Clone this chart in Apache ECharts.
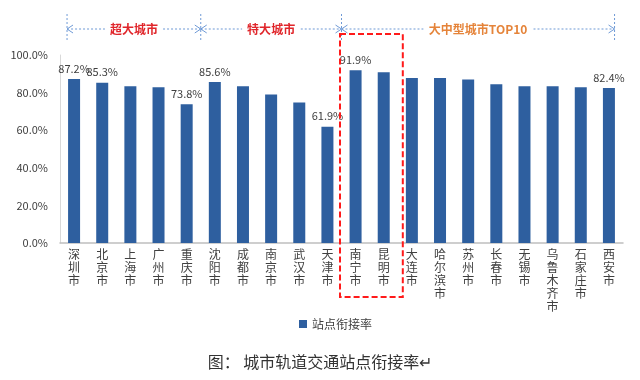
<!DOCTYPE html>
<html><head><meta charset="utf-8">
<script src="https://cdn.jsdelivr.net/npm/echarts@6/dist/echarts.min.js"></script>
<style>html,body{margin:0;padding:0;background:#fff}#c{width:640px;height:380px}</style>
</head><body><div id="c"></div>
<script>
const categories = ['深圳市','北京市','上海市','广州市','重庆市','沈阳市','成都市','南京市','武汉市','天津市','南宁市','昆明市','大连市','哈尔滨市','苏州市','长春市','无锡市','乌鲁木齐市','石家庄市','西安市'];
const values = [87.2,85.3,83.4,82.9,73.8,85.6,83.4,79.0,74.7,61.9,91.9,90.8,87.8,87.7,87.0,84.4,83.4,83.4,82.9,82.4];
const labeled = ['深圳市','北京市','重庆市','沈阳市','天津市','南宁市','西安市'];
const yTicks = [0,20,40,60,80,100];
const groups = [
  {name:'超大城市', from:0, to:4, color:'#e0262b'},
  {name:'特大城市', from:5, to:9, color:'#e0262b'},
  {name:'大中型城市TOP10', from:10, to:19, color:'#e5843a'}
];
const highlight = ['南宁市','昆明市'];
const seriesName = '站点衔接率';
const caption = '图： 城市轨道交通站点衔接率';

const FONT = '"Noto Sans CJK SC", "Noto Sans", sans-serif';
const chart = echarts.init(document.getElementById('c'), null, {renderer:'canvas'});
chart.setOption({
  animation:false,
  textStyle:{fontFamily:FONT},
  title:{text:caption + '↵', left:'center', top:349, textStyle:{fontSize:16, fontWeight:'normal', color:'#333', fontFamily:FONT}},
  legend:{data:[seriesName], left:294, top:313, itemWidth:8, itemHeight:8, icon:'rect', itemGap:4,
    textStyle:{fontSize:12, color:'#404040', fontFamily:FONT}},
  grid:{left:60, right:17, top:55, bottom:137, containLabel:false},
  xAxis:{type:'category', data:categories,
    axisLine:{lineStyle:{color:'#bfbfbf', width:1.5}}, axisTick:{show:false},
    axisLabel:{interval:0, fontSize:12, color:'#404040', lineHeight:13, margin:5, fontFamily:FONT,
      formatter:v=>v.split('').join('\n')}},
  yAxis:{type:'value', min:yTicks[0], max:yTicks[yTicks.length-1], interval:20,
    splitLine:{show:false}, axisLine:{show:true, lineStyle:{color:'#d9d9d9'}}, axisTick:{show:false},
    axisLabel:{fontSize:11, color:'#404040', margin:12, formatter:v=>v.toFixed(1)+'%'}},
  series:[{name:seriesName, type:'bar', barWidth:12, itemStyle:{color:'#2e5f9f'},
    data: values.map((v,i)=>({value:v, label:{show: labeled.includes(categories[i])}})),
    label:{position:'top', distance:5, fontSize:11, color:'#404040', formatter:p=>p.value.toFixed(1)+'%'}
  }]
});

// annotations derived from axis positions
const cx = i => chart.convertToPixel({xAxisIndex:0}, categories[i]);
const step = cx(1) - cx(0);
const bounds = groups.map((g,gi)=>{
  const l = gi===0 ? cx(g.from) - step*0.25 : (cx(g.from) + cx(g.from-1))/2;
  const r = gi===groups.length-1 ? cx(g.to) + step*0.2 : (cx(g.to) + cx(g.to+1))/2;
  return [l,r];
});
const ay = 29;
const blue = '#6f9ad6';
const els = [];
const vxs = [bounds[0][0], ...bounds.map(b=>b[1])];
vxs.forEach(x=>els.push({type:'line', shape:{x1:x,y1:14,x2:x,y2:42}, style:{stroke:blue, lineWidth:1, lineDash:[2,2]}, silent:true}));
groups.forEach((g,gi)=>{
  const [l,r] = bounds[gi];
  els.push({type:'line', shape:{x1:l,y1:ay,x2:r,y2:ay}, style:{stroke:blue, lineWidth:1, lineDash:[2,2]}});
  els.push({type:'polyline', shape:{points:[[l+6,ay-4],[l,ay],[l+6,ay+4]]}, style:{stroke:blue, lineWidth:1, fill:null}});
  els.push({type:'polyline', shape:{points:[[r-6,ay-4],[r,ay],[r-6,ay+4]]}, style:{stroke:blue, lineWidth:1, fill:null}});
  els.push({type:'text', x:(l+r)/2, y:ay, style:{text:g.name, fill:g.color, font:'bold 12px '+FONT, align:'center', verticalAlign:'middle', backgroundColor:'#fff', padding:[1,5]}});
});
const hi0 = categories.indexOf(highlight[0]), hi1 = categories.indexOf(highlight[highlight.length-1]);
const bx1 = (cx(hi0)+cx(hi0-1))/2 - 1.5, bx2 = (cx(hi1)+cx(hi1+1))/2 + 5;
els.push({type:'rect', shape:{x:bx1, y:34, width:bx2-bx1, height:263}, style:{fill:null, stroke:'#ff1a1a', lineWidth:2, lineDash:[6,3]}, z:10});
chart.setOption({graphic:els});
</script></body></html>
